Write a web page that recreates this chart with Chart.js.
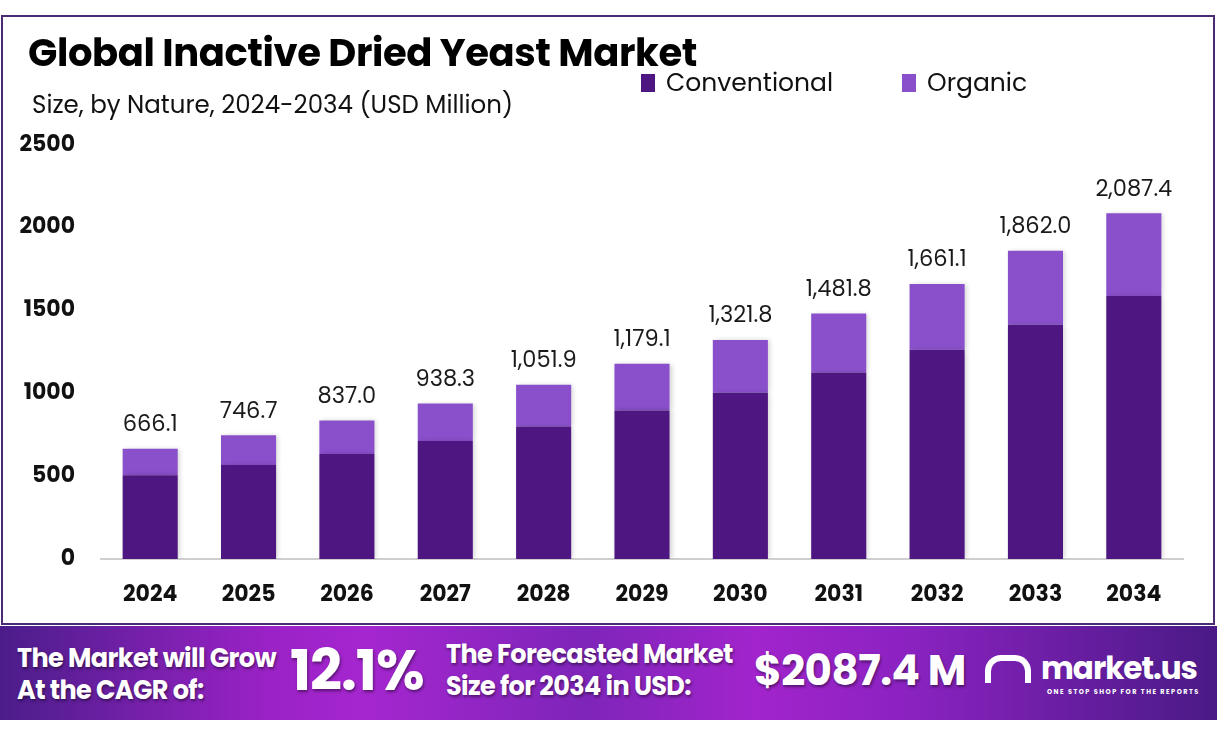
<!DOCTYPE html>
<html>
<head>
<meta charset="utf-8">
<script src="https://cdn.jsdelivr.net/npm/chart.js@4.4.1/dist/chart.umd.min.js"></script>
<style>
  html, body { margin: 0; padding: 0; background: #fff; }
  body { width: 1217px; height: 739px; position: relative; overflow: hidden; font-family: Poppins, Inter, "Noto Sans", sans-serif; }
  #frame { position: absolute; left: 1px; top: 15px; width: 1214px; height: 610px; border: 2px solid #4a2a74; box-sizing: border-box; }
  #chartBox { position: absolute; left: 0; top: 0; width: 1217px; height: 739px; }
  .title { position: absolute; left: 28px; top: 24px; font-size: 38.5px; font-weight: 700; color: #000; letter-spacing: -0.4px; }
  .subtitle { position: absolute; left: 32px; top: 86px; font-size: 24.5px; color: #111; }
  .legend { position: absolute; top: 64px; font-size: 25px; color: #111; display: flex; align-items: center; }
  .legend span.box { display: inline-block; width: 14px; height: 18px; margin-right: 11px; }
  #banner { position: absolute; left: 0; top: 626px; width: 1217px; height: 94px;
    background: linear-gradient(90deg, #4b1d8a 0%, #9a22c6 22%, #a526cf 30%, #7e25b9 48%, #a224cc 62%, #8a22c0 75%, #4a1a86 100%); }
  .bt { position: absolute; color: #fff; font-weight: 700; text-shadow: 1px 2px 3px rgba(0,0,0,0.45); white-space: nowrap; }
</style>
</head>
<body>
<div id="frame"></div>
<div id="chartBox"><canvas id="chart" width="1217" height="739"></canvas></div>
<div class="title">Global Inactive Dried Yeast Market</div>
<div class="subtitle">Size, by Nature, 2024-2034 (USD Million)</div>
<div class="legend" style="left:641px"><span class="box" style="background:#4e1681"></span>Conventional</div>
<div class="legend" style="left:902px"><span class="box" style="background:#8a50cc"></span>Organic</div>

<div id="banner">
  <div class="bt" style="left:17px; top:16px; font-size:25.5px; line-height:32px; letter-spacing:-0.6px">The Market will Grow<br>At the CAGR of:</div>
  <div class="bt" style="left:290px; top:12px; font-size:56px; line-height:66px; letter-spacing:-1px">12.1%</div>
  <div class="bt" style="left:446px; top:12px; font-size:25.5px; line-height:32px; letter-spacing:-0.6px">The Forecasted Market<br>Size for 2034 in USD:</div>
  <div class="bt" style="left:754px; top:19px; font-size:42px; line-height:52px; letter-spacing:-0.5px">$2087.4 M</div>
  <div class="bt" style="left:985px; top:22px; font-size:31px; line-height:40px; letter-spacing:-1px; text-shadow:none">
    <span style="display:inline-block; width:46px; height:28px; border:6px solid #fff; border-bottom:none; border-radius:16px 16px 0 0; box-sizing:border-box; vertical-align:-4px; margin-right:10px"></span>market.us
  </div>
  <div class="bt" style="left:1047px; top:61px; font-size:6.5px; letter-spacing:1.5px; text-shadow:none">ONE STOP SHOP FOR THE REPORTS</div>
</div>

<script>
const years = ['2024', '2025', '2026', '2027', '2028', '2029', '2030', '2031', '2032', '2033', '2034'];
const totals = [666.1, 746.7, 837.0, 938.3, 1051.9, 1179.1, 1321.8, 1481.8, 1661.1, 1862.0, 2087.4];
const conventional = [506, 567, 634, 712, 800, 897, 1004, 1126, 1263, 1415, 1588];
const organic = totals.map((t, i) => +(t - conventional[i]).toFixed(1));
const yTicks = [0, 500, 1000, 1500, 2000, 2500];

// totals above each stacked bar
const totalLabels = {
    id: 'totalLabels',
    afterDatasetsDraw(chart) {
        const ctx = chart.ctx;
        const meta = chart.getDatasetMeta(1);
        ctx.save();
        ctx.font = '22.5px Poppins, Inter, "Noto Sans", sans-serif';
        ctx.fillStyle = '#1a1a1a';
        ctx.textAlign = 'center';
        ctx.textBaseline = 'bottom';
        meta.data.forEach((bar, i) => {
            const txt = totals[i].toLocaleString('en-US', { minimumFractionDigits: 1, maximumFractionDigits: 1 });
            ctx.fillText(txt, bar.x, bar.y - 12);
        });
        ctx.restore();
    }
};

// soft shadow on bars
const barShadow = {
    id: 'barShadow',
    beforeDatasetDraw(chart) {
        const ctx = chart.ctx;
        ctx.save();
        ctx.shadowColor = 'rgba(0,0,0,0.18)';
        ctx.shadowBlur = 5;
        ctx.shadowOffsetX = 2;
        ctx.shadowOffsetY = 0;
    },
    afterDatasetDraw(chart) {
        chart.ctx.restore();
    }
};

new Chart(document.getElementById('chart').getContext('2d'), {
    type: 'bar',
    data: {
        labels: years,
        datasets: [{
            label: 'Conventional',
            data: conventional,
            backgroundColor: '#4e1681',
            barPercentage: 0.56,
            categoryPercentage: 1.0
        }, {
            label: 'Organic',
            data: organic,
            backgroundColor: '#8a50cc',
            barPercentage: 0.56,
            categoryPercentage: 1.0
        }]
    },
    options: {
        responsive: false,
        animation: false,
        layout: { padding: { top: 145, right: 34, bottom: 120, left: 0 } },
        plugins: {
            legend: { display: false },
            tooltip: { enabled: false }
        },
        scales: {
            x: {
                stacked: true,
                grid: { display: false, drawTicks: false },
                border: { display: true, color: '#cfcfcf', width: 2 },
                ticks: {
                    color: '#111',
                    padding: 23,
                    font: { size: 22, weight: 'bold', family: 'Poppins, Inter, "Noto Sans", sans-serif' }
                },
                afterFit(scale) { scale.height = 60; }
            },
            y: {
                stacked: true,
                min: 0,
                max: 2500,
                grid: { display: false, drawTicks: false },
                border: { display: false },
                afterBuildTicks(scale) { scale.ticks = yTicks.map(v => ({ value: v })); },
                ticks: {
                    color: '#111',
                    padding: 26,
                    font: { size: 22, weight: 'bold', family: 'Poppins, Inter, "Noto Sans", sans-serif' },
                    callback: v => String(v)
                },
                afterFit(scale) { scale.width = 101; }
            }
        }
    },
    plugins: [barShadow, totalLabels]
});
</script>
</body>
</html>
